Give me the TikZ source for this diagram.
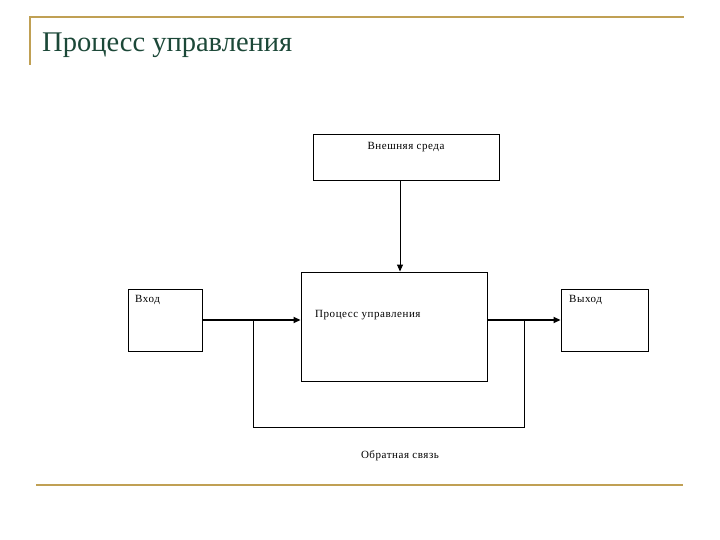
\documentclass[tikz,border=0pt]{standalone}
\usepackage{fontspec}
\setmainfont{Liberation Serif}
\usepackage{tikz}
\usetikzlibrary{arrows.meta, positioning, calc}
\definecolor{slidegold}{RGB}{192, 160, 84}
\definecolor{titlegreen}{RGB}{28, 72, 56}
\tikzset{
    block/.style={draw, rectangle, line width=0.9pt, inner sep=0pt},
    blocklabel/.style={font=\fontsize{11}{13}\selectfont\addfontfeature{LetterSpace=5}, inner sep=0pt},
    flowarrow/.style={-{Triangle[length=7pt, width=6pt]}, line width=1.8pt},
    envarrow/.style={-{Triangle[length=7pt, width=6pt]}, line width=0.9pt},
    feedline/.style={line width=0.9pt},
    rule/.style={draw=slidegold, line width=2pt},
}

\begin{document}
\begin{tikzpicture}[x=1pt, y=-1pt]
    \useasboundingbox (0,0) rectangle (720,540);
    % slide frame
    \draw[rule] (30,65) -- (30,17) -- (684,17);
    \draw[rule] (36,485) -- (683,485);
    \node[anchor=base west, inner sep=0pt, text=titlegreen, font=\fontsize{28.5}{32}\selectfont] (title) at (42,52) {Процесс управления};

    % blocks
    \node[block, minimum width=186pt, minimum height=46pt] (env) at (406,157) {};
    \node[block, minimum width=186pt, minimum height=109pt] (proc) at (394,326.5) {};
    \node[block, minimum width=74pt, minimum height=62pt] (in) at (165,320) {};
    \node[block, minimum width=87pt, minimum height=62pt] (out) at (604.5,320) {};

    % labels
    \node[blocklabel, anchor=base] (envtext) at (406,150) {Внешняя среда};
    \node[blocklabel, anchor=base west] (proctext) at (315,317) {Процесс управления};
    \node[blocklabel, anchor=base west] (intext) at (135,302) {Вход};
    \node[blocklabel, anchor=base west] (outtext) at (569,302) {Выход};
    \node[blocklabel, anchor=base] (fbtext) at (400,458) {Обратная связь};

    % connectors
    \draw[envarrow] (env.south -| 400,0) -- (proc.north -| 400,0);
    \draw[flowarrow] (in.east) -- (proc.west |- in.east);
    \draw[flowarrow] (proc.east |- out.west) -- (out.west);

    % feedback loop
    \coordinate (fbleft) at (253,320);
    \coordinate (fbright) at (524,320);
    \draw[feedline] (fbleft) -- (253,427) -- (524,427) -- (fbright);
\end{tikzpicture}
\end{document}
